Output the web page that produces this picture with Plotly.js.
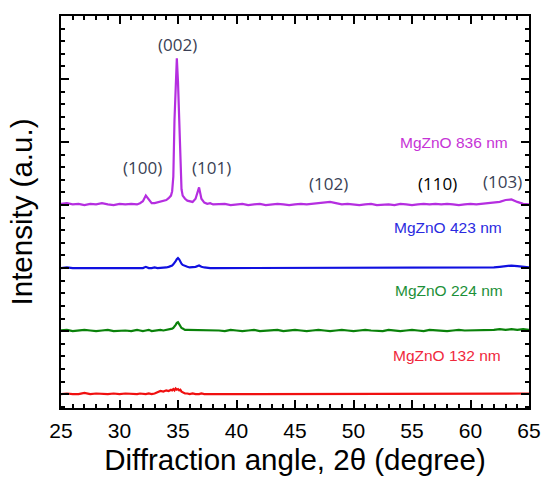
<!DOCTYPE html>
<html>
<head>
<meta charset="utf-8">
<script src="https://cdn.plot.ly/plotly-3.0.1.min.js"></script>
<style>html,body{margin:0;padding:0;background:#fff;}#chart{width:543px;height:478px;}</style>
</head>
<body>
<div id="chart"></div>
<script>
// 2-theta grid (degree)
const twoTheta = [25,25.5,26,26.5,27,27.5,28,28.5,29,29.5,30,30.5,31,31.5,
 31.75,32,32.25,32.5,32.75,33,33.25,33.5,33.75,
 34,34.2,34.4,34.5,34.6,34.7,34.8,34.9,35,35.1,35.2,35.3,35.4,35.5,35.6,35.8,
 36,36.25,36.5,36.8,37,37.25,37.5,37.75,38,
 38.5,39,39.5,40,40.5,41,41.5,42,42.5,43,43.5,44,44.5,45,45.5,46,46.5,47,47.5,48,48.5,49,49.5,50,50.5,51,51.5,52,52.5,53,53.5,54,54.5,55,55.5,56,56.5,57,57.5,58,58.5,59,59.5,60,60.5,61,61.5,62,62.5,63,63.5,64,64.5,65];

// stacked intensities (a.u.) as plotted
const i836 = [3.02,3.03,3.01,3.02,3.00,3.02,3.01,3.03,3.01,3.00,3.02,3.01,3.02,3.01,
 3.03,3.06,3.15,3.08,3.03,3.03,3.04,3.05,3.07,
 3.08,3.11,3.15,3.22,3.45,4.35,5.00,5.33,4.95,4.30,3.55,3.25,3.15,3.12,3.10,3.07,
 3.06,3.05,3.10,3.28,3.10,3.04,3.02,3.03,3.01,
 3.01,3.02,3.00,3.01,3.02,3.00,3.01,3.02,3.00,3.01,3.02,3.01,3.00,3.01,3.02,3.01,3.02,3.02,3.04,3.05,3.03,3.01,3.02,3.01,3.00,3.01,3.02,3.00,3.01,3.01,3.00,3.02,3.01,3.00,3.01,3.02,3.01,3.02,3.01,3.02,3.01,3.00,3.01,3.02,3.01,3.02,3.02,3.03,3.05,3.08,3.09,3.05,3.02,3.01];

const i423 = [2.00,2.01,2.00,2.00,2.01,2.00,2.00,2.01,2.00,2.00,2.01,2.00,2.00,2.01,
 2.00,2.00,2.02,2.00,2.00,2.01,2.00,2.00,2.01,
 2.01,2.02,2.03,2.04,2.06,2.08,2.11,2.14,2.16,2.14,2.10,2.07,2.05,2.04,2.03,2.02,
 2.01,2.01,2.02,2.04,2.02,2.01,2.00,2.00,2.00,
 2.00,2.01,2.00,2.00,2.00,2.01,2.00,2.00,2.00,2.01,2.00,2.00,2.01,2.00,2.00,2.00,2.01,2.00,2.00,2.01,2.00,2.00,2.00,2.01,2.00,2.00,2.00,2.01,2.00,2.00,2.00,2.00,2.01,2.00,2.00,2.00,2.00,2.01,2.00,2.00,2.00,2.00,2.00,2.01,2.00,2.00,2.01,2.01,2.02,2.03,2.04,2.03,2.02,2.01];

const i224 = [1.01,1.02,1.00,1.01,1.02,1.01,1.00,1.01,1.02,1.00,1.01,1.01,1.00,1.02,
 1.01,1.00,1.01,1.02,1.00,1.01,1.01,1.02,1.01,
 1.02,1.02,1.03,1.04,1.05,1.07,1.10,1.13,1.14,1.11,1.07,1.05,1.04,1.03,1.02,1.02,
 1.02,1.01,1.02,1.01,1.02,1.01,1.01,1.02,1.01,
 1.01,1.00,1.02,1.01,1.00,1.01,1.02,1.00,1.01,1.01,1.02,1.00,1.01,1.02,1.01,1.00,1.01,1.02,1.01,1.00,1.01,1.02,1.01,1.00,1.01,1.02,1.01,1.01,1.00,1.02,1.01,1.00,1.01,1.02,1.01,1.00,1.02,1.01,1.01,1.00,1.01,1.02,1.01,1.01,1.02,1.01,1.02,1.02,1.03,1.02,1.03,1.02,1.03,1.02];

const i132 = [0.00,0.01,0.00,0.00,0.02,0.00,0.01,0.00,0.00,0.01,0.00,0.01,0.00,0.00,
 0.01,0.00,0.00,0.01,0.00,0.01,0.03,0.05,0.04,
 0.06,0.05,0.07,0.06,0.08,0.06,0.09,0.07,0.08,0.06,0.07,0.04,0.03,0.02,0.01,0.01,
 0.00,0.01,0.00,0.00,0.01,0.00,0.00,0.01,0.00,
 0.00,0.01,0.00,0.00,0.01,0.00,0.00,0.00,0.01,0.00,0.00,0.01,0.00,0.00,0.00,0.01,0.00,0.00,0.01,0.00,0.00,0.00,0.01,0.00,0.00,0.00,0.01,0.00,0.00,0.00,0.01,0.00,0.00,0.00,0.01,0.00,0.00,0.00,0.01,0.00,0.00,0.01,0.00,0.00,0.01,0.00,0.00,0.01,0.00,0.00,0.01,0.00,0.00,0.01];

const sampleNames = ['MgZnO 836 nm','MgZnO 423 nm','MgZnO 224 nm','MgZnO 132 nm'];
const sampleSeries = [i836, i423, i224, i132];
const lineColors = ['#b52ee0','#1010e0','#0a820a','#f01010'];
const labelColors = ['#c633d6','#2a2ae0','#1c9038','#f0283c'];
const labelX = [58.6, 58.1, 58.15, 58.0];
const labelY = [4.0, 2.64, 1.65, 0.62];

const peakLabels = ['(100)','(002)','(101)','(102)','(110)','(103)'];
const peakX = [31.95, 34.92, 37.9, 47.9, 57.15, 62.7];
const peakY = [3.6, 5.54, 3.6, 3.35, 3.35, 3.38];
const peakColors = ['#3a3f55','#3a3f55','#3a3f55','#3a3f55','#000000','#3a3f55'];

const traces = sampleSeries.map((s, k) => ({
  x: twoTheta, y: s, type: 'scatter', mode: 'lines',
  line: {color: lineColors[k], width: 2.2}, name: sampleNames[k], hoverinfo: 'skip'
}));

const annotations = [];
sampleNames.forEach((n, k) => annotations.push({
  x: labelX[k], y: labelY[k], xref: 'x', yref: 'y', text: n, showarrow: false,
  font: {family: 'Liberation Sans, Arial, sans-serif', size: 15.5, color: labelColors[k]}
}));
peakLabels.forEach((t, k) => annotations.push({
  x: peakX[k], y: peakY[k], xref: 'x', yref: 'y', text: t, showarrow: false,
  font: {family: 'Open Sans, sans-serif', size: 17, color: peakColors[k]}
}));

const axisCommon = {
  showline: true, linecolor: '#000', linewidth: 2, mirror: 'ticks',
  ticks: 'inside', ticklen: 8, tickwidth: 2, tickcolor: '#000',
  showgrid: false, zeroline: false
};

const layout = {
  width: 543, height: 478,
  margin: {l: 61, r: 14, t: 16, b: 70},
  paper_bgcolor: '#fff', plot_bgcolor: '#fff',
  showlegend: false,
  font: {family: 'Liberation Sans, Arial, sans-serif', color: '#000'},
  xaxis: Object.assign({}, axisCommon, {
    range: [25, 65], tickmode: 'linear', tick0: 25, dtick: 5,
    tickfont: {size: 21, color: '#000'}, ticklabelstandoff: 3,
    minor: {dtick: 1, ticklen: 4, tickwidth: 2, tickcolor: '#000', ticks: 'inside'},
    title: {text: 'Diffraction angle, 2θ (degree)', font: {size: 29.5, color: '#000'}, standoff: 8}
  }),
  yaxis: Object.assign({}, axisCommon, {
    range: [-0.22, 6], tickmode: 'linear', tick0: 0, dtick: 1,
    showticklabels: false,
    minor: {dtick: 0.2, ticklen: 4, tickwidth: 2, tickcolor: '#000', ticks: 'inside'},
    title: {text: 'Intensity (a.u.)', font: {size: 29.5, color: '#000'}, standoff: 18}
  }),
  annotations: annotations
};

Plotly.newPlot('chart', traces, layout, {staticPlot: true, displayModeBar: false});
</script>
</body>
</html>
